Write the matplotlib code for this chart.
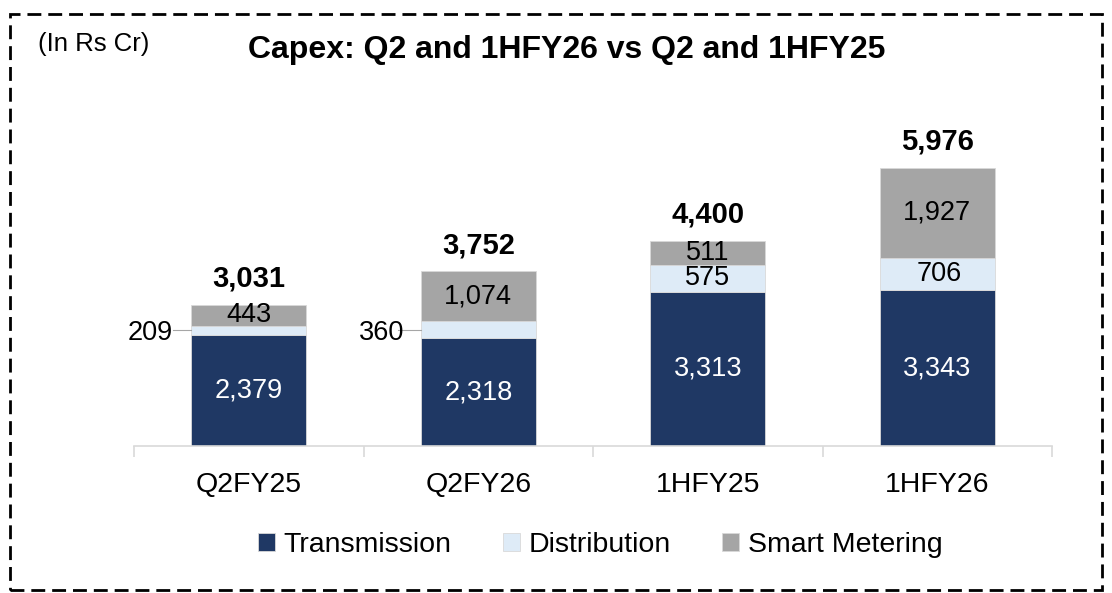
import matplotlib.pyplot as plt
from matplotlib.patches import Rectangle
import numpy as np

plt.rcParams['font.family'] = ['Liberation Sans', 'DejaVu Sans']

categories = ["Q2FY25", "Q2FY26", "1HFY25", "1HFY26"]
transmission = [2379, 2318, 3313, 3343]
distribution = [209, 360, 575, 706]
smart_metering = [443, 1074, 511, 1927]
totals = [3031, 3752, 4400, 5976]

c_tr = "#1F3864"
c_di = "#DEEBF7"
c_sm = "#A5A5A5"

fig = plt.figure(figsize=(11.12, 5.93), dpi=100)
ax = fig.add_axes([134/1112, 147/593, (1052-134)/1112, 302.4/593])

x = np.arange(len(categories))
w = 0.5
tr = np.array(transmission)
di = np.array(distribution)
sm = np.array(smart_metering)

ax.bar(x, tr, w, color=c_tr, edgecolor="#D9D9D9", linewidth=0.6, label="Transmission")
ax.bar(x, di, w, bottom=tr, color=c_di, edgecolor="#D9D9D9", linewidth=0.6, label="Distribution")
ax.bar(x, sm, w, bottom=tr + di, color=c_sm, edgecolor="#D9D9D9", linewidth=0.6, label="Smart Metering")

ax.set_xlim(-0.5, len(categories) - 0.5)
ax.set_ylim(0, 6500)

fs = 19.5
for i in range(len(categories)):
    ax.text(x[i], tr[i] / 2, f"{tr[i]:,}", ha="center", va="center", color="white", fontsize=fs)
    ax.text(x[i], tr[i] + di[i] + sm[i] / 2, f"{sm[i]:,}", ha="center", va="center", color="black", fontsize=fs)
    ax.annotate(f"{totals[i]:,}", (x[i], tr[i] + di[i] + sm[i]), xytext=(0, 19),
                textcoords="offset points", ha="center", va="center",
                fontsize=21, fontweight="bold")
    if i >= 2:
        ax.text(x[i] + (0.01 if i == 3 else 0), tr[i] + di[i] / 2, f"{di[i]:,}", ha="center", va="center",
                color="black", fontsize=fs)

# leader-line labels for small distribution segments
# (segment index, text x offset, line start offset) in category units
for i, dx_txt, dx_line in [(0, -0.33, -0.33), (1, -0.42, -0.35)]:
    ymid = tr[i] + di[i] / 2
    ax.plot([x[i] + dx_line, x[i] - w / 2], [ymid, ymid], color="#A6A6A6", lw=0.8, zorder=1)
    ax.text(x[i] + dx_txt, ymid - 60, f"{di[i]:,}", ha="right" if i == 0 else "center",
            va="center", fontsize=fs, zorder=3)

for s in ["top", "right", "left"]:
    ax.spines[s].set_visible(False)
ax.spines["bottom"].set_color("#D9D9D9")
ax.spines["bottom"].set_linewidth(1.2)
ax.set_yticks([])
ax.set_xticks(np.arange(-0.5, len(categories)), minor=False)
ax.set_xticklabels([])
ax.tick_params(axis="x", which="major", length=8, color="#D9D9D9", width=1.2)
ax.set_xticks(x, minor=True)
ax.set_xticklabels(categories, minor=True, fontsize=20.5)
ax.tick_params(axis="x", which="minor", length=0, pad=19)

leg = fig.legend(loc="center", bbox_to_anchor=(600/1112, 1 - 545/593), ncol=3, frameon=False,
                 fontsize=20.5, handlelength=0.6, handleheight=0.6, handletextpad=0.3,
                 columnspacing=1.8)

fig.text(567/1112, 1 - 50/593, "Capex: Q2 and 1HFY26 vs Q2 and 1HFY25", ha="center", va="center",
         fontsize=23, fontweight="bold")
fig.text(38/1112, 1 - 44/593, "(In Rs Cr)", ha="left", va="center", fontsize=18.5)

fig.patches.append(Rectangle((10/1112, 1 - 590/593), 1092/1112, 576/593, transform=fig.transFigure,
                             fill=False, edgecolor="black", linestyle=(0, (5, 2.5)), linewidth=2))

fig.savefig("out.png", dpi=100)
